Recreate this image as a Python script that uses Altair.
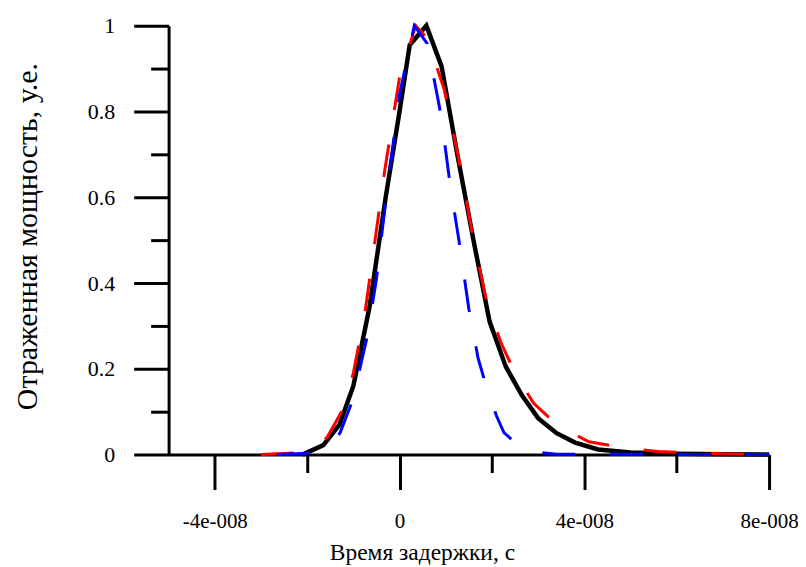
import altair as alt
import pandas as pd

# ---- data (time in units of 1e-8 s, normalized power) ----
black_t = [-2.1, -1.65, -1.3, -1.0, -0.65, -0.3, 0.0, 0.22, 0.58, 0.91, 1.25, 1.6,
           1.95, 2.3, 2.65, 3.0, 3.4, 3.8, 4.3, 5.0, 6.0, 7.0, 8.0]
black_p = [0.0, 0.022, 0.07, 0.16, 0.344, 0.60, 0.80, 0.955, 1.0, 0.905, 0.70, 0.50,
           0.31, 0.205, 0.138, 0.085, 0.05, 0.028, 0.012, 0.005, 0.002, 0.001, 0.0]

red_t = [-3.0, -2.2, -1.8, -1.57, -1.23, -1.0, -0.75, -0.32, 0.0, 0.35, 0.6, 0.97,
         1.3, 1.6, 1.9, 2.2, 2.5, 2.9, 3.45, 4.1, 4.85, 5.6, 6.5, 8.0]
red_p = [0.0, 0.004, 0.018, 0.04, 0.105, 0.19, 0.33, 0.663, 0.88, 1.0, 0.97, 0.85,
         0.68, 0.50, 0.35, 0.26, 0.19, 0.12, 0.065, 0.03, 0.016, 0.007, 0.003, 0.0]

blue_t = [-2.65, -2.0, -1.6, -1.29, -1.04, -0.86, -0.69, -0.5, -0.3, 0.0, 0.32, 0.6,
          0.9, 1.1, 1.3, 1.5, 1.7, 1.9, 2.1, 2.26, 2.6, 3.0, 3.4, 8.0]
blue_p = [0.0, 0.003, 0.015, 0.05, 0.12, 0.2, 0.28, 0.41, 0.59, 0.84, 1.0, 0.958,
          0.79, 0.625, 0.49, 0.34, 0.225, 0.15, 0.09, 0.051, 0.019, 0.005, 0.001, 0.0]

x_major_ticks = [-4e-8, 0.0, 4e-8, 8e-8]
x_minor_ticks = [-2e-8, 2e-8, 6e-8]
y_major_ticks = [0.0, 0.2, 0.4, 0.6, 0.8, 1.0]
y_minor_ticks = [0.1, 0.3, 0.5, 0.7, 0.9]

x_title = "Время задержки, с"
y_title = "Отраженная мощность, у.е."


def frame(t, p):
    return pd.DataFrame({"t": [v * 1e-8 for v in t], "p": p})


FONT = "'Liberation Serif', 'Times New Roman', 'DejaVu Serif', serif"
xscale = alt.Scale(domain=[-5e-8, 8e-8], nice=False, zero=False)
yscale = alt.Scale(domain=[0, 1], nice=False, zero=False)

common = dict(tickColor="black", tickWidth=3, domainColor="black", domainWidth=3,
              grid=False, labelColor="black", labelFont=FONT, titleFont=FONT,
              titleColor="black", titleFontWeight="normal", labelFlush=False,
              labelOverlap=False)

x_major = alt.Axis(values=x_major_ticks, orient="bottom", tickSize=35,
                   labelFontSize=21, labelPadding=21,
                   labelExpr="datum.value == 0 ? '0' : (datum.value < 0 ? '-' : '') + round(abs(datum.value) / 1e-8) + 'e-008'",
                   title=x_title, titleFontSize=23.5, titleX=254, titleY=105,
                   titleBaseline="alphabetic", **common)
y_major = alt.Axis(values=y_major_ticks, orient="left", tickSize=35,
                   labelFontSize=22, labelPadding=19,
                   labelExpr="'' + round(datum.value * 10) / 10",
                   title=y_title, titleFontSize=30, titleX=-126, titleY=211,
                   titleBaseline="bottom", titleAngle=270, **common)

x_minor = alt.Axis(values=x_minor_ticks, orient="bottom", tickSize=18, labels=False,
                   domain=False, title=None, tickColor="black", tickWidth=3, grid=False)
y_minor = alt.Axis(values=y_minor_ticks, orient="left", tickSize=18, labels=False,
                   domain=False, title=None, tickColor="black", tickWidth=3, grid=False)

black = alt.Chart(frame(black_t, black_p)).mark_line(
    color="black", strokeWidth=4.5).encode(
    x=alt.X("t:Q", scale=xscale, axis=x_major),
    y=alt.Y("p:Q", scale=yscale, axis=y_major),
)

red = alt.Chart(frame(red_t, red_p)).mark_line(
    color="#ff0000", strokeWidth=3, strokeDash=[33, 35]).encode(
    x=alt.X("t:Q", scale=xscale, axis=x_minor),
    y=alt.Y("p:Q", scale=yscale, axis=y_minor),
)

blue = alt.Chart(frame(blue_t, blue_p)).mark_line(
    color="#0000ff", strokeWidth=3, strokeDash=[33, 35]).encode(
    x=alt.X("t:Q", scale=xscale, axis=None),
    y=alt.Y("p:Q", scale=yscale, axis=None),
)

chart = (
    alt.layer(black, red, blue)
    .resolve_axis(x="independent", y="independent")
    .properties(width=602, height=430,
                autosize=alt.AutoSizeParams(type="none"),
                padding={"left": 161, "top": 17, "right": 29, "bottom": 120})
    .configure_view(strokeWidth=0)
)

chart.save("out.html", embed_options={"renderer": "svg", "actions": False})
